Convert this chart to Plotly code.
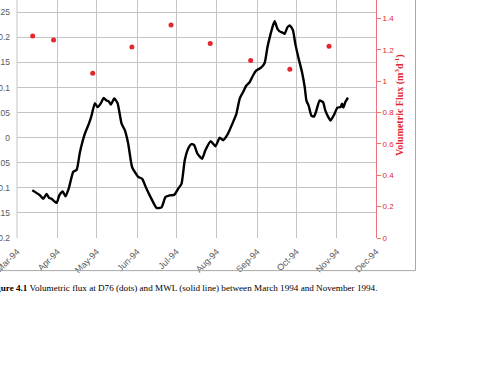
import pandas as pd
import plotly.graph_objects as go

# MWL (solid line): days since 1994-03-01 and level
mwl_day = [11.7, 17.6, 20, 22.7, 24.5, 26.5, 30.4, 32.4, 35, 37.2, 39.8, 43.1, 45.7, 48.2, 52, 55.1,
           57.1, 59.7, 61.7, 64.3, 66.3, 68.6, 70.4, 71.9, 74.5, 77, 80.1, 82.6, 85.2, 88.2, 92.8,
           95.9, 99.2, 103, 106.9, 110.7, 113.8, 117, 120.4, 123.4, 126, 128.5, 131.1, 133.7, 135.7,
           138.2, 141.8, 144.3, 148.4, 152, 155.3, 157.9, 161.2, 165.5, 168.1, 170.6, 173.2, 175.7,
           178.3, 180.8, 183.4, 186.7, 189.7, 191.8, 193.6, 196.1, 197.4, 199.5, 201.2, 203, 205,
           207.1, 208.9, 211.4, 213.2, 215.8, 218.3, 220.4, 221.7, 223.4, 225.5, 227.5, 229.3,
           231.8, 234.4, 236.2, 238.7, 240.2, 243.3, 245.4, 247.9, 249, 250, 251.5, 253.5]
mwl_value = [-0.105, -0.115, -0.122, -0.112, -0.120, -0.122, -0.130, -0.115, -0.107, -0.117, -0.100,
             -0.068, -0.064, -0.029, 0.008, 0.028, 0.044, 0.069, 0.061, 0.069, 0.079, 0.074, 0.072,
             0.066, 0.078, 0.069, 0.028, 0.015, -0.012, -0.059, -0.078, -0.082, -0.102, -0.122,
             -0.140, -0.139, -0.118, -0.115, -0.114, -0.102, -0.092, -0.045, -0.022, -0.013, -0.015,
             -0.032, -0.042, -0.025, -0.007, -0.017, 0.000, -0.005, 0.006, 0.031, 0.048, 0.078,
             0.091, 0.104, 0.111, 0.124, 0.134, 0.139, 0.149, 0.180, 0.200, 0.224, 0.232, 0.217,
             0.212, 0.210, 0.207, 0.220, 0.224, 0.214, 0.187, 0.157, 0.131, 0.101, 0.074, 0.064,
             0.044, 0.042, 0.054, 0.074, 0.071, 0.054, 0.040, 0.034, 0.048, 0.060, 0.061, 0.068,
             0.060, 0.071, 0.080]

# Volumetric flux at D76 (dots)
flux_date = ["1994-03-13", "1994-03-29", "1994-04-28", "1994-05-28", "1994-06-27",
             "1994-07-27", "1994-08-27", "1994-09-26", "1994-10-26"]
flux_value = [1.288, 1.262, 1.050, 1.218, 1.358, 1.239, 1.131, 1.076, 1.222]

left_ticks = [-0.2, -0.15, -0.1, -0.05, 0, 0.05, 0.1, 0.15, 0.2, 0.25]
left_ticktext = ["-0.2", "-0.15", "-0.1", "-0.05", "0", "0.05", "0.1", "0.15", "0.2", "0.25"]
right_ticks = [0, 0.2, 0.4, 0.6, 0.8, 1, 1.2, 1.4]

caption = ("<b>Figure 4.1</b> Volumetric flux at D76 (dots) and MWL (solid line) "
           "between March 1994 and November 1994.")
flux_title = "<b>Volumetric Flux (m<sup>3</sup>d<sup>-1</sup>)</b>"

start = pd.Timestamp("1994-03-01")
mwl_date = [start + pd.Timedelta(days=d) for d in mwl_day]

RED = "#e3262f"
GRID = "#c4c4c4"

fig = go.Figure()
fig.add_trace(go.Scatter(x=mwl_date, y=mwl_value, mode="lines",
                         line=dict(color="black", width=2.4, shape="spline", smoothing=0.5),
                         yaxis="y", showlegend=False))
fig.add_trace(go.Scatter(x=flux_date, y=flux_value, mode="markers",
                         marker=dict(color=RED, size=5),
                         yaxis="y2", showlegend=False))

fig.update_layout(
    width=484, height=378,
    margin=dict(l=17, r=107.5, t=0, b=140, pad=0),
    paper_bgcolor="white", plot_bgcolor="white",
    font=dict(family="Liberation Sans", size=8, color="#595959"),
    xaxis=dict(type="date", range=["1994-03-01", "1994-12-01"],
               tick0="1994-03-01", dtick="M1", tickformat="%b-%y",
               tickangle=-45, showgrid=True, gridcolor=GRID, gridwidth=1,
               showline=False, zeroline=False, ticks="outside", ticklen=4,
               tickcolor="rgba(0,0,0,0)", automargin=False, ticklabeloverflow="allow",
               tickfont=dict(size=9, color="#595959")),
    yaxis=dict(range=[-0.2, 0.2745], tickvals=left_ticks, ticktext=left_ticktext,
               showgrid=True, gridcolor=GRID, gridwidth=1, zeroline=False,
               showline=False, ticks="", ticklabelstandoff=6, automargin=False,
               ticklabeloverflow="allow",
               tickfont=dict(size=8.5, color="#595959")),
    yaxis2=dict(range=[0, 1.517], tickvals=right_ticks, overlaying="y", side="right",
                showgrid=False, zeroline=False, showline=True, linecolor="#ee7078",
                linewidth=1, ticks="outside", ticklen=4, tickcolor="#ee7078",
                automargin=False, tickfont=dict(size=8, color=RED)),
    shapes=[
        dict(type="line", xref="paper", yref="paper", x0=1.110, x1=1.110, y0=1.05, y1=-0.137,
             line=dict(color="#a8a8a8", width=1)),
        dict(type="line", xref="paper", yref="paper", x0=-0.1, x1=1.110, y0=-0.137, y1=-0.137,
             line=dict(color="#a8a8a8", width=1)),
        dict(type="line", xref="paper", yref="paper", x0=0, x1=0, y0=0, y1=1,
             line=dict(color=GRID, width=1)),
    ],
    annotations=[
        dict(text=flux_title, xref="paper", yref="paper", x=1.065, y=0.56,
             textangle=-90, showarrow=False, xanchor="center", yanchor="middle",
             font=dict(family="Liberation Serif", size=10, color=RED)),
        dict(text=caption, xref="paper", yref="paper", x=(380 - 17) / 359.5, y=-0.2086,
             showarrow=False, xanchor="right", yanchor="middle",
             font=dict(family="Liberation Serif", size=9.15, color="black")),
    ],
)

fig.write_html("out.html")
